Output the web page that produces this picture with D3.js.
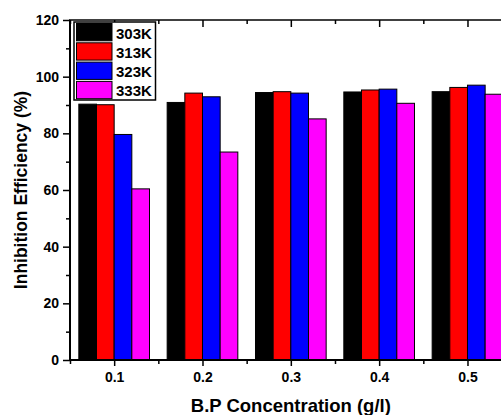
<!DOCTYPE html>
<html>
<head>
<meta charset="utf-8">
<script src="https://cdn.jsdelivr.net/npm/d3@7"></script>
<style>
  body { margin: 0; background: #fff; }
  svg { display: block; }
  text { font-family: "Liberation Sans", Arial, sans-serif; font-weight: bold; fill: #000; }
</style>
</head>
<body>
<script>
var w = 501, h = 415;

// data
var concentrations = ["0.1", "0.2", "0.3", "0.4", "0.5"];
var temps = ["303K", "313K", "323K", "333K"];
var ie303 = [90.3, 90.9, 94.4, 94.6, 94.7];
var ie313 = [90.1, 94.2, 94.7, 95.3, 96.2];
var ie323 = [79.6, 92.9, 94.2, 95.6, 97.0];
var ie333 = [60.4, 73.4, 85.1, 90.6, 93.8];
var colors = ["#000000", "#ff0000", "#0000ff", "#ff00ff"];
var yTicks = [0, 20, 40, 60, 80, 100, 120];
var xTicks = [0.1, 0.2, 0.3, 0.4, 0.5];

var series = [ie303, ie313, ie323, ie333];

// plot edges (note: "top" is taken by window.top)
var padL = 70, padT = 20, padB = 360;
var padR = padL + 5 * 88.33; // plot runs past the window edge

var svg = d3.select("body").append("svg")
    .attr("width", w)
    .attr("height", h);

var y = d3.scaleLinear().domain([0, 120]).range([padB, padT]);
var xLin = d3.scaleLinear().domain([0.05, 0.55]).range([padL, padR]);
var x0 = d3.scaleBand().domain(concentrations).range([padL, padR])
    .paddingInner(0.2).paddingOuter(0.1);
var x1 = d3.scaleBand().domain(d3.range(temps.length)).range([0, x0.bandwidth()]);

// bars
var groups = svg.selectAll("g.grp")
    .data(concentrations)
    .enter().append("g")
    .attr("class", "grp")
    .attr("transform", function(d){ return "translate(" + x0(d) + ",0)"; });

groups.selectAll("rect")
    .data(function(d, i){ return series.map(function(s, j){ return {j: j, v: s[i]}; }); })
    .enter().append("rect")
    .attr("x", function(d){ return x1(d.j); })
    .attr("y", function(d){ return y(d.v); })
    .attr("width", x1.bandwidth())
    .attr("height", function(d){ return y(0) - y(d.v); })
    .style("fill", function(d){ return colors[d.j]; })
    .style("stroke", "#000")
    .style("stroke-width", 1);

// axes
var minorY = d3.range(10, 120, 20);
var minorX = [0.05, 0.15, 0.25, 0.35, 0.45, 0.55];

svg.append("g").attr("transform", "translate(" + padL + ",0)")
    .call(d3.axisLeft(y).tickValues(yTicks).tickSize(7).tickPadding(4).tickFormat(d3.format("d")));
svg.append("g").attr("transform", "translate(" + padL + ",0)")
    .call(d3.axisLeft(y).tickValues(minorY).tickSize(4).tickFormat(""));

svg.append("g").attr("transform", "translate(0," + padB + ")")
    .call(d3.axisBottom(xLin).tickValues(xTicks).tickSize(6).tickPadding(6).tickFormat(d3.format(".1f")));
svg.append("g").attr("transform", "translate(0," + padB + ")")
    .call(d3.axisBottom(xLin).tickValues(minorX).tickSize(4).tickFormat(""));

// top axis with inward ticks
svg.append("g").attr("transform", "translate(0," + padT + ")")
    .call(d3.axisBottom(xLin).tickValues(xTicks).tickSize(7).tickFormat(""));
svg.append("g").attr("transform", "translate(0," + padT + ")")
    .call(d3.axisBottom(xLin).tickValues(minorX).tickSize(4).tickFormat(""));

svg.selectAll(".domain").remove();
svg.selectAll(".tick line").style("stroke", "#000").style("stroke-width", 1.5);
svg.selectAll(".tick text").style("font-size", "14px").style("font-family", "Liberation Sans, Arial, sans-serif").style("font-weight", "bold");

// frame lines
svg.append("line").attr("x1", padL).attr("x2", padL).attr("y1", padT).attr("y2", padB)
    .style("stroke", "#000").style("stroke-width", 2);
svg.append("line").attr("x1", padL - 1).attr("x2", padR).attr("y1", padB).attr("y2", padB)
    .style("stroke", "#000").style("stroke-width", 2);
svg.append("line").attr("x1", padL - 1).attr("x2", padR).attr("y1", padT).attr("y2", padT)
    .style("stroke", "#000").style("stroke-width", 1.5);

// axis titles
svg.append("text")
    .attr("x", (padL + padR) / 2)
    .attr("y", 412)
    .attr("text-anchor", "middle")
    .style("font-size", "18.5px")
    .text("B.P Concentration (g/l)");

svg.append("text")
    .attr("transform", "translate(27," + ((padT + padB) / 2) + ") rotate(-90)")
    .attr("text-anchor", "middle")
    .style("font-size", "17.5px")
    .text("Inhibition Efficiency (%)");

// legend
var legend = svg.append("g");
legend.append("rect")
    .attr("x", 74).attr("y", 22).attr("width", 81.5).attr("height", 78)
    .style("fill", "#fff").style("stroke", "#000").style("stroke-width", 1.5);

var items = legend.selectAll("g.item")
    .data(temps)
    .enter().append("g")
    .attr("class", "item")
    .attr("transform", function(d, i){ return "translate(0," + (23.5 + i * 19.3) + ")"; });

items.append("rect")
    .attr("x", 76.5).attr("y", 0).attr("width", 35.5).attr("height", 17.3)
    .style("fill", function(d, i){ return colors[i]; })
    .style("stroke", "#000").style("stroke-width", 1);

items.append("text")
    .attr("x", 116).attr("y", 15)
    .style("font-size", "15px")
    .text(function(d){ return d; });
</script>
</body>
</html>
